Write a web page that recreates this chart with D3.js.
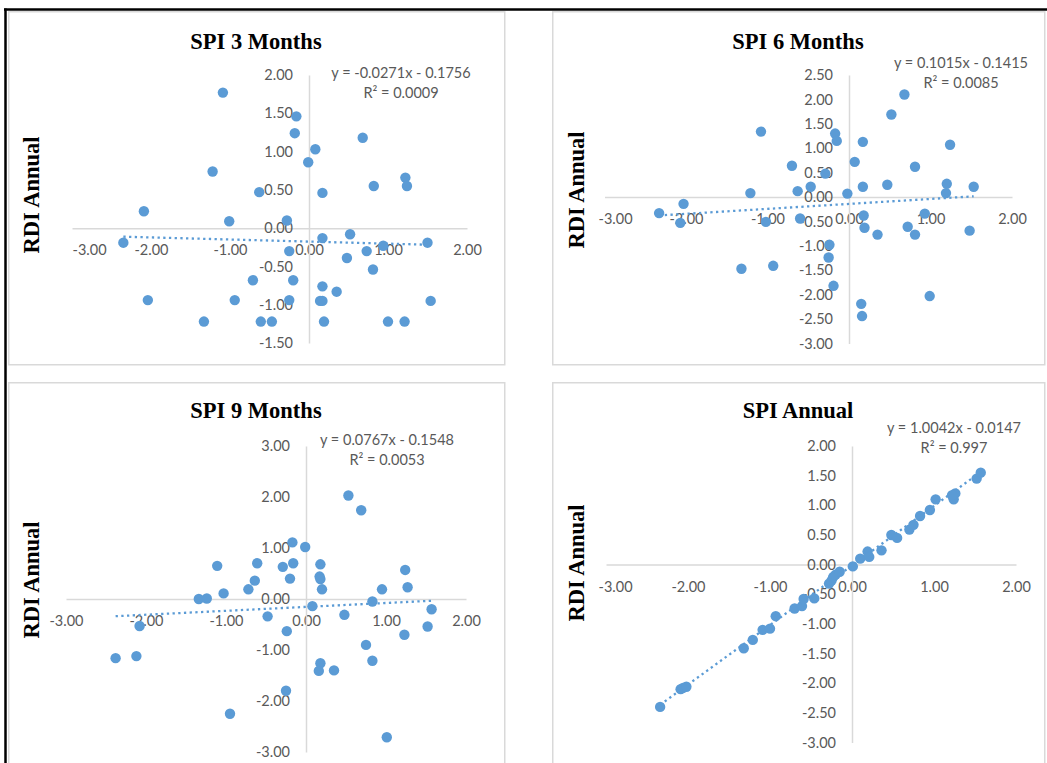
<!DOCTYPE html>
<html>
<head>
<meta charset="utf-8">
<script src="https://cdn.jsdelivr.net/npm/d3@7"></script>
<style>
  body { margin: 0; background: #fff; }
  svg { display: block; }
</style>
</head>
<body>
<div id="chart"></div>
<script>
var width = 1047, height = 763;

/* Data: [SPI, RDI annual] */
var spi3 = [
  [-1.09, 1.77], [-1.22, 0.74], [-0.63, 0.47], [-2.09, 0.22], [-1.01, 0.09],
  [-0.28, 0.10], [-2.35, -0.19], [-0.25, -0.30], [-0.71, -0.68], [-0.20, -0.68],
  [-2.04, -0.94], [-0.94, -0.94], [-0.25, -0.94], [-1.33, -1.22], [-0.61, -1.22],
  [-0.47, -1.22], [-0.16, 1.46], [-0.18, 1.24], [0.68, 1.18], [0.08, 1.03],
  [-0.01, 0.86], [1.22, 0.66], [1.24, 0.55], [0.82, 0.55], [0.17, 0.46],
  [0.52, -0.08], [0.17, -0.13], [0.94, -0.23], [1.50, -0.19], [0.73, -0.30],
  [0.48, -0.39], [0.81, -0.54], [0.17, -0.76], [0.35, -0.83], [0.14, -0.95],
  [0.17, -0.95], [1.54, -0.95], [0.19, -1.22], [1.00, -1.22], [1.21, -1.22]
];
var spi6 = [
  [-1.08, 1.34], [-0.17, 1.30], [-0.15, 1.15], [-0.70, 0.64], [-0.29, 0.48],
  [-0.47, 0.21], [-0.63, 0.12], [-1.21, 0.08], [-0.02, 0.07], [-2.03, -0.14],
  [-2.33, -0.33], [-2.07, -0.53], [-1.02, -0.51], [-0.60, -0.44], [-0.24, -0.98],
  [-0.25, -1.24], [-0.93, -1.41], [-1.32, -1.47], [-0.19, -1.82], [0.68, 2.10],
  [0.52, 1.69], [0.17, 1.13], [1.24, 1.07], [0.07, 0.72], [0.81, 0.62],
  [0.17, 0.21], [0.47, 0.25], [1.20, 0.27], [1.53, 0.21], [1.19, 0.08],
  [0.18, -0.38], [0.93, -0.34], [0.19, -0.63], [0.35, -0.77], [0.72, -0.61],
  [0.81, -0.77], [1.48, -0.69], [0.99, -2.03], [0.15, -2.19], [0.16, -2.44]
];
var spi9 = [
  [-0.17, 1.11], [-1.11, 0.65], [-0.61, 0.70], [-0.29, 0.63], [-0.16, 0.70],
  [-0.64, 0.36], [-0.20, 0.40], [-0.72, 0.19], [-1.03, 0.11], [-1.34, 0.00],
  [-1.24, 0.01], [-0.48, -0.34], [-2.08, -0.53], [-0.24, -0.63], [-2.38, -1.16],
  [-2.12, -1.12], [-0.25, -1.80], [-0.95, -2.25], [0.53, 2.03], [0.69, 1.74],
  [-0.01, 1.02], [0.18, 0.68], [0.17, 0.44], [0.18, 0.39], [0.20, 0.19],
  [1.24, 0.57], [0.95, 0.19], [1.27, 0.23], [0.83, -0.05], [0.08, -0.14],
  [1.57, -0.20], [0.48, -0.31], [1.52, -0.54], [1.23, -0.70], [0.75, -0.90],
  [0.83, -1.21], [0.18, -1.26], [0.16, -1.41], [0.35, -1.40], [1.01, -2.71]
];
var spiAnnual = [
  [-2.34, -2.40], [-2.09, -2.10], [-2.06, -2.08], [-2.02, -2.06], [-1.32, -1.41],
  [-1.21, -1.27], [-1.09, -1.10], [-1.00, -1.08], [-0.93, -0.87], [-0.70, -0.74],
  [-0.61, -0.70], [-0.59, -0.58], [-0.46, -0.57], [-0.28, -0.32], [-0.25, -0.27],
  [-0.23, -0.21], [-0.20, -0.17], [-0.15, -0.12], [0.01, -0.03], [0.10, 0.10],
  [0.19, 0.22], [0.21, 0.13], [0.36, 0.24], [0.48, 0.50], [0.55, 0.45],
  [0.70, 0.59], [0.75, 0.67], [0.83, 0.82], [0.95, 0.92], [1.02, 1.10],
  [1.24, 1.10], [1.26, 1.20], [1.22, 1.17], [1.52, 1.45], [1.57, 1.55]
];

var titles = ["SPI 3 Months", "SPI 6 Months", "SPI 9 Months", "SPI Annual"];
var slopes = [-0.0271, 0.1015, 0.0767, 1.0042];
var intercepts = [-0.1756, -0.1415, -0.1548, -0.0147];
var equations = ["y = -0.0271x - 0.1756", "y = 0.1015x - 0.1415", "y = 0.0767x - 0.1548", "y = 1.0042x - 0.0147"];
var rSquared = ["R² = 0.0009", "R² = 0.0085", "R² = 0.0053", "R² = 0.997"];

var xTicks = [-3, -2, -1, 0, 1, 2];
var yTicks3 = [-1.5, -1, -0.5, 0, 0.5, 1, 1.5, 2];
var yTicks6 = [-3, -2.5, -2, -1.5, -1, -0.5, 0, 0.5, 1, 1.5, 2, 2.5];
var yTicks9 = [-3, -2, -1, 0, 1, 2, 3];
var yTicksA = [-3, -2.5, -2, -1.5, -1, -0.5, 0, 0.5, 1, 1.5, 2];

var blue = "#5b9bd5", grey = "#d9d9d9", textGrey = "#595959";

// layout of each panel (pixels)
var panels = [
  { data: spi3, yTicks: yTicks3, box: [8, 11, 496, 353], xr: [72, 467], yr: [343, 75],
    title: [256, 49], ylab: [31, 195], eq: [401, 78], labMin: 72 },
  { data: spi6, yTicks: yTicks6, box: [552, 11, 492, 353], xr: [604.5, 1012], yr: [343.4, 75],
    title: [798, 49], ylab: [576, 190], eq: [961, 68], labMin: 598 },
  { data: spi9, yTicks: yTicks9, box: [8, 382, 496, 400], xr: [66, 466], yr: [752, 446],
    title: [256, 418], ylab: [31, 580], eq: [387, 445], labMin: 30 },
  { data: spiAnnual, yTicks: yTicksA, box: [552, 382, 492, 400], xr: [606, 1016], yr: [742.5, 446],
    title: [798, 418], ylab: [576, 563], eq: [954, 433], labMin: 598 }
];

// Excel style labels use a plain hyphen for negatives
var fmt = function(d) { return d3.format('.2f')(d).replace('\u2212', '-'); };

var svg = d3.select('#chart').append('svg')
    .attr('width', width)
    .attr('height', height);

// black frame of the scan
svg.append('line').attr('x1', 4).attr('x2', width).attr('y1', 9.5).attr('y2', 9.5)
    .attr('stroke', '#000').attr('stroke-width', 2.5);
svg.append('line').attr('x1', 5.5).attr('x2', 5.5).attr('y1', 8.5).attr('y2', height)
    .attr('stroke', '#000').attr('stroke-width', 2.5);

panels.forEach(function(p, i) {
    var g = svg.append('g');
    var yDom = d3.extent(p.yTicks);
    var x = d3.scaleLinear().domain([-3, 2]).range(p.xr);
    var y = d3.scaleLinear().domain(yDom).range(p.yr);

    g.append('rect')
        .attr('x', p.box[0] + 0.75).attr('y', p.box[1] + 0.75)
        .attr('width', p.box[2]).attr('height', p.box[3])
        .attr('fill', '#fff').attr('stroke', grey).attr('stroke-width', 1.5);

    // axes crossing at zero, no tick marks
    var xAxis = d3.axisBottom(x).tickValues(xTicks).tickSize(0).tickFormat(fmt);
    var yAxis = d3.axisLeft(y).tickValues(p.yTicks).tickSize(0).tickFormat(fmt);

    var gx = g.append('g').attr('transform', 'translate(0,' + y(0) + ')').call(xAxis);
    var gy = g.append('g').attr('transform', 'translate(' + x(0) + ',0)').call(yAxis);

    [gx, gy].forEach(function(a) {
        a.select('.domain').attr('stroke', grey).attr('stroke-width', 1.5);
        a.selectAll('text')
            .attr('fill', textGrey)
            .style('font-family', 'Lato, "Liberation Sans", sans-serif')
            .style('font-size', '14.5px');
    });
    gx.selectAll('text').attr('dy', null).attr('y', 27);
    gx.selectAll('.tick').each(function(d) {
        var t = d3.select(this).select('text');
        var w = t.node().getComputedTextLength();
        var left = x(d) - w / 2;
        if (left < p.labMin) t.attr('x', p.labMin - left);
    });
    gy.selectAll('text').attr('x', -16);

    // trendline over the range of the data
    var ext = d3.extent(p.data, function(d) { return d[0]; });
    g.append('path')
        .attr('d', d3.line()
            .x(function(d) { return x(d); })
            .y(function(d) { return y(slopes[i] * d + intercepts[i]); })(ext))
        .attr('stroke', blue).attr('stroke-width', 2.3)
        .attr('stroke-dasharray', '2.3,3.4')
        .attr('fill', 'none');

    g.selectAll('circle.pt').data(p.data).enter().append('circle')
        .attr('class', 'pt')
        .attr('cx', function(d) { return x(d[0]); })
        .attr('cy', function(d) { return y(d[1]); })
        .attr('r', 5.2)
        .attr('fill', blue);

    g.append('text')
        .attr('x', p.title[0]).attr('y', p.title[1])
        .attr('text-anchor', 'middle')
        .style('font-family', '"Liberation Serif", "Times New Roman", serif')
        .style('font-weight', 'bold').style('font-size', '22.5px')
        .text(titles[i]);

    g.append('text')
        .attr('transform', 'translate(' + p.ylab[0] + ',' + p.ylab[1] + ') rotate(-90)')
        .attr('text-anchor', 'middle').attr('dy', '0.35em')
        .style('font-family', '"Liberation Serif", "Times New Roman", serif')
        .style('font-weight', 'bold').style('font-size', '22.5px')
        .text('RDI Annual');

    var eq = g.append('text')
        .attr('text-anchor', 'middle')
        .attr('fill', textGrey)
        .style('font-family', 'Lato, "Liberation Sans", sans-serif')
        .style('font-size', '14.5px');
    eq.append('tspan').attr('x', p.eq[0]).attr('y', p.eq[1]).text(equations[i]);
    eq.append('tspan').attr('x', p.eq[0]).attr('y', p.eq[1] + 20).text(rSquared[i]);
});
</script>
</body>
</html>
